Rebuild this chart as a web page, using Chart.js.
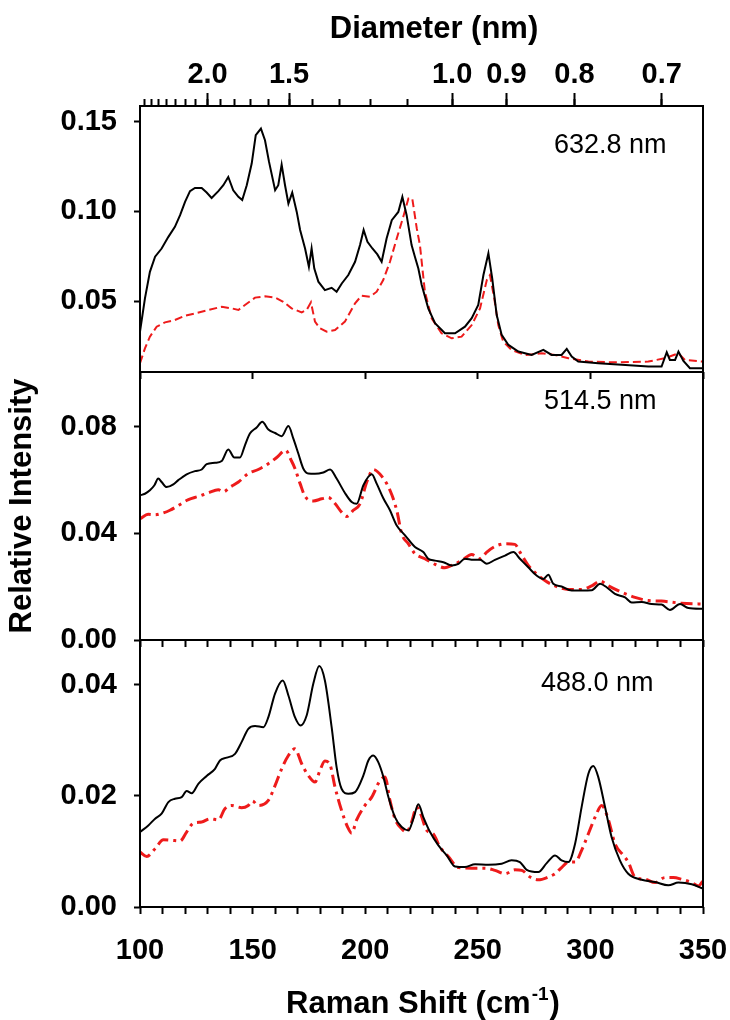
<!DOCTYPE html>
<html>
<head>
<meta charset="utf-8">
<script src="https://cdn.jsdelivr.net/npm/chart.js@4.4.0/dist/chart.umd.min.js"></script>
<style>
  html, body { margin: 0; padding: 0; background: #fff; }
  #wrap { position: relative; width: 730px; height: 1020px; }
  canvas { position: absolute; left: 0; }
</style>
</head>
<body>
<div id="wrap">
  <canvas id="c633" width="730" height="392" style="top:0px"></canvas>
  <canvas id="c514" width="730" height="310" style="top:350px"></canvas>
  <canvas id="c488" width="730" height="400" style="top:620px"></canvas>
</div>
<script>
// ---- data (Raman shift in cm-1, relative intensity) ----
const shift633Black = [100,102.2,104.4,106.7,109.6,112.6,115.5,117.8,120,122.2,124.4,127.4,129.6,131.8,134.8,137,139.2,141.4,143.7,145.4,147.4,149.6,151.4,153.7,155.5,157.3,160,161.4,162.9,164.4,165.9,167.6,169.6,171.1,173.3,175,176.2,177.4,179.2,182.1,185.1,187.3,189.6,192.5,195.5,197.7,199.3,201,203.2,205.4,207.3,209.5,211.8,214.7,216.5,218.4,220.6,222.1,223.6,225.1,228,231,235.4,239.9,244.3,247.3,250.2,252.5,254.7,256.4,258.4,260.6,263.6,268,273.9,279.1,282.8,287.2,289.5,291.7,294.6,303.5,313.9,325.7,331.6,333.9,335.3,337.6,339.1,341.3,344.2,350];
const int633Black = [.0329,.0515,.0663,.0747,.0793,.0858,.0914,.0979,.1053,.1113,.1131,.113,.1105,.1075,.1113,.1146,.1192,.1118,.1081,.1063,.1146,.1267,.1425,.1462,.1397,.1276,.1118,.1146,.1261,.1146,.1044,.1105,.0997,.0896,.0793,.0691,.0793,.0681,.0608,.0561,.0574,.0552,.0598,.0645,.0719,.0812,.0896,.083,.0793,.076,.0719,.0849,.0951,.0997,.1081,.0979,.0812,.0745,.0681,.0589,.0459,.0376,.032,.032,.0357,.0404,.0478,.0645,.0766,.0626,.0422,.0311,.0255,.0218,.0199,.0227,.0199,.0199,.0233,.019,.0162,.0153,.0144,.0134,.0134,.0214,.0171,.0171,.0218,.0166,.0125,.0125];
const shift633Red = [100,102.2,104.4,107.4,111.1,115.5,120,124.4,130.3,136.3,140.7,143.7,146.6,151.1,155.5,160,163.6,167.3,171.8,174,175.9,177.7,179.9,182.9,186.6,191,195.5,198.4,202.1,205.1,208,211,214,216.9,219.2,220.9,222.9,224.3,226.5,229.5,233.9,238.4,242.8,247.3,251,254,255.4,257.3,259.1,261.3,265,271,278.4,284.3,290.2,299.1,311,325.7,333.1,339.1,342,350];
const int633Red = [.0153,.0236,.0301,.0357,.0381,.0394,.0418,.0431,.045,.0468,.0459,.045,.0478,.0519,.0526,.0519,.0496,.0459,.0437,.045,.0493,.0385,.0348,.0329,.0338,.0385,.0487,.053,.0524,.0552,.0617,.0719,.0849,.097,.1072,.1072,.0905,.0812,.0552,.0404,.032,.0292,.0301,.0366,.0459,.0617,.0645,.0515,.0366,.0273,.0227,.0199,.0208,.0199,.0181,.0162,.0158,.0162,.0181,.0208,.0171,.0162];

const shift514Black = [100,102.2,104.4,106.4,108.1,109.6,111.8,114.8,117,120.7,124.4,127.4,129.6,133.3,136.3,139.2,141.9,144.4,146.6,148.8,151.8,154.3,157,160,162.9,165.9,168.1,170.3,172.5,174.7,177.7,181.4,184.4,187.3,191,194,196.2,199.2,202.9,205.1,208.1,211,214,217.7,222.1,225.8,228,231,234.7,238.4,241.4,244.3,248,251,254,257.6,262.1,265.8,268.7,272.4,276.1,279.1,281.3,283.5,287.2,291.7,296.1,300.6,304.3,307.2,310.9,315.4,318.3,322.8,327.2,331.6,335.3,339.8,343.5,350];
const int514Black = [.0543,.0549,.0562,.0581,.0606,.0593,.0574,.0584,.06,.0622,.0634,.064,.066,.0665,.0672,.0715,.0685,.0685,.0731,.0775,.0798,.0819,.079,.0777,.0765,.0803,.0756,.07,.0644,.0625,.0624,.0629,.064,.0606,.0552,.0518,.0511,.0581,.0622,.0587,.0531,.0487,.043,.0393,.0349,.033,.0305,.0298,.0292,.028,.0286,.0305,.0301,.0301,.0286,.0301,.0317,.033,.0305,.0273,.0242,.0229,.0245,.0211,.0201,.0186,.0186,.0187,.0211,.0198,.0173,.016,.0141,.0143,.0135,.0133,.0113,.0135,.012,.0117];
const shift514Red = [100,103.7,106.7,109.6,113.3,117,121.5,125.9,130.3,134.8,137,140,143.7,148.1,152.5,157,160.7,164.7,167.1,168.8,171.1,173.3,177,180.7,183.6,186.6,189.5,191.8,194.7,197.7,200.7,203.6,207.3,211,214,216.2,219.2,222.1,226.5,231,235.4,238.4,242.8,247.3,251,254,257.6,262.1,266.5,268.7,272.4,276.1,279.8,284.3,290.2,296.1,300.6,304.3,308,313.9,319.8,325.7,331.6,340.5,350];
const int514Red = [.0455,.0472,.047,.0475,.0487,.0505,.0527,.0539,.0552,.0564,.0556,.0574,.0593,.0625,.064,.0662,.0685,.0712,.0675,.0644,.0587,.0539,.0522,.053,.0535,.0512,.048,.0464,.0487,.0511,.0593,.064,.0615,.0562,.0487,.0399,.0361,.0324,.0305,.0284,.0271,.028,.0298,.0321,.0305,.033,.0351,.0361,.0359,.033,.028,.0248,.0223,.0203,.019,.019,.0203,.0221,.0203,.0179,.016,.0148,.0146,.0138,.0135];

const shift488Black = [100,103.7,106.7,109.6,112.6,115.5,118.5,120.7,123,125.9,129.6,133.3,135.5,138.5,142.2,145.1,148.1,151.1,154.8,157,160,163.4,165.9,168.8,171.3,174,177,179.6,182.1,185.1,187.3,189.5,192.5,195.5,199.2,201.4,203.6,205.8,208.1,210.3,213.2,216.2,219.2,221.4,223.6,225.8,228.8,232.5,236.2,239.9,244.3,248.8,254.7,260.6,265,268.7,271.7,276.9,280.6,284.3,287.2,290.2,293.2,296.1,299.1,301.3,303.5,306.5,309.4,313.1,316.8,322.8,328.7,334.6,339.1,345,350];
const int488Black = [.0135,.0147,.0159,.0168,.0189,.0195,.0198,.0209,.0205,.0222,.0236,.0249,.0264,.0269,.0276,.0297,.0321,.0326,.0324,.0342,.0385,.0408,.0381,.0342,.0327,.0345,.0403,.0434,.0408,.0324,.0252,.0213,.0204,.0207,.0237,.0264,.0273,.0261,.0234,.0198,.0162,.0144,.0138,.0159,.0185,.0162,.0135,.0111,.0093,.0073,.0072,.0077,.0076,.0078,.0084,.0081,.0067,.0063,.0079,.0093,.0084,.0081,.0114,.018,.024,.0254,.0234,.018,.0126,.0084,.006,.0049,.0045,.0039,.0044,.0041,.0033];
const shift488Red = [100,103,106.7,110.4,114.1,117.8,120.7,123.7,127.4,131.1,134.8,137.7,140.7,145.1,148.1,149.9,152.5,157,160,162.9,165.9,168.8,171.8,174.7,177.7,179.9,182.1,184.4,186.6,189.5,192.2,194,196.2,199.9,202.9,206.6,208.8,211,213.2,216.2,218.4,220.6,222.9,224.8,227.3,230.2,233.2,236.9,241.4,247.3,253.2,257.6,262.1,266.5,269.5,273.2,276.9,281.3,284.3,287.2,290.2,293.2,296.1,299.1,302.1,305,308,310.9,314.6,316.8,319.8,324.2,328.7,333.1,336.8,340.5,345,348,350];
const int488Red = [.0099,.0091,.0105,.0121,.012,.0119,.0135,.0151,.0153,.0159,.0157,.0177,.0183,.0179,.0183,.0191,.0183,.0192,.0219,.0249,.0273,.0285,.0258,.0237,.0225,.0246,.0263,.0256,.0216,.0174,.0144,.0133,.0157,.0183,.0198,.0228,.0234,.0192,.0159,.0141,.0135,.0153,.018,.0166,.0138,.0132,.0108,.0091,.0071,.007,.007,.0066,.006,.0067,.0066,.0054,.0049,.0054,.006,.0071,.0081,.0081,.0102,.0132,.0162,.0183,.0157,.0114,.0093,.0081,.0054,.005,.0044,.0053,.0053,.005,.0044,.0038,.0047];

// tick values
const shiftTicksMajor = [100, 150, 200, 250, 300, 350];
const diamMajor = [2.0, 1.5, 1.0, 0.9, 0.8, 0.7];
const diamMinor = [2.7, 2.6, 2.5, 2.4, 2.3, 2.2, 2.1, 2.0, 1.9, 1.8, 1.7, 1.6, 1.5, 1.4, 1.3, 1.2, 1.1, 1.0, 0.9, 0.8, 0.7];
const yTicks633 = [0.05, 0.10, 0.15];
const yTicks514 = [0.00, 0.04, 0.08];
const yTicks488 = [0.00, 0.02, 0.04];

// diameter (nm) -> Raman shift (cm-1), fitted to the top axis
const shiftFromDiam = d => 217.2 / d + 21.4;

const FONT = "'Liberation Sans', Arial, sans-serif";
const RED = '#ee1b1b';
Chart.defaults.font.family = FONT;
Chart.defaults.color = '#000';

const pts = (xs, ys) => xs.map((x, i) => ({ x, y: ys[i] }));
const tickGrid = len => ({ display: true, drawOnChartArea: false, drawTicks: true, tickLength: len, tickColor: '#000', tickWidth: 2 });
const boldTicks = { size: 29, weight: 'bold' };

// fixed axis sizes so the three panels line up exactly
const fixHeight = h => s => { s.height = h; s.paddingLeft = 0; s.paddingRight = 0; };
const fixWidth = w => s => { s.width = w; s.paddingTop = 0; s.paddingBottom = 0; };

const framePlugin = {
  id: 'frame',
  afterDraw(chart) {
    const { ctx, chartArea: a } = chart;
    ctx.save();
    ctx.strokeStyle = '#000';
    ctx.lineWidth = 2;
    ctx.strokeRect(a.left, a.top, a.right - a.left, a.bottom - a.top);
    // free text items
    const items = chart.options.plugins.texts || [];
    items.forEach(t => {
      ctx.fillStyle = '#000';
      ctx.textBaseline = 'alphabetic';
      if (t.sup) {
        ctx.font = t.font;
        const w1 = ctx.measureText(t.text).width;
        ctx.font = t.supFont;
        const w2 = ctx.measureText(t.sup).width;
        ctx.font = t.font;
        const w3 = ctx.measureText(t.tail).width;
        let x = t.x - (w1 + w2 + w3) / 2;
        ctx.textAlign = 'left';
        ctx.fillText(t.text, x, t.y);
        ctx.font = t.supFont;
        ctx.fillText(t.sup, x + w1 + 1, t.y - t.raise);
        ctx.font = t.font;
        ctx.fillText(t.tail, x + w1 + w2 + 2, t.y);
      } else {
        ctx.font = t.font;
        ctx.textAlign = t.align || 'left';
        ctx.fillText(t.text, t.x, t.y);
      }
    });
    ctx.restore();
  }
};

function yScale(min, max, ticks, title) {
  return {
    type: 'linear', position: 'left', min, max,
    afterBuildTicks: s => { s.ticks = ticks.map(v => ({ value: v })); },
    afterFit: fixWidth(140),
    ticks: { font: boldTicks, padding: 17, callback: v => v.toFixed(2) },
    grid: tickGrid(6),
    border: { display: false },
    title: title ? { display: true, text: title, font: { size: 31, weight: 'bold' }, padding: { top: 4, bottom: 0 } } : { display: false }
  };
}

function xScale(step, labelled, height) {
  return {
    type: 'linear', position: 'bottom', min: 100, max: 350,
    afterBuildTicks: s => {
      const t = [];
      for (let v = 100; v <= 350; v += step) t.push({ value: v });
      s.ticks = t;
    },
    afterFit: fixHeight(height),
    ticks: {
      autoSkip: false, maxRotation: 0, font: boldTicks, padding: 20,
      callback: v => (labelled && shiftTicksMajor.includes(v)) ? String(v) : ''
    },
    grid: tickGrid(7),
    border: { display: false }
  };
}

function lineSet(xs, ys, color, width, dash, smooth) {
  return {
    data: pts(xs, ys), borderColor: color, borderWidth: width, borderDash: dash,
    pointRadius: 0, fill: false, tension: 0,
    cubicInterpolationMode: smooth ? 'monotone' : 'default'
  };
}

const common = {
  responsive: false, animation: false, parsing: false,
  plugins: { legend: { display: false }, tooltip: { enabled: false } }
};

// 632.8 nm panel with the diameter axis on top
new Chart(document.getElementById('c633'), {
  type: 'line',
  data: { datasets: [
    lineSet(shift633Black, int633Black, '#000', 2, [], false),
    lineSet(shift633Red, int633Red, RED, 2, [8, 4], false)
  ] },
  options: {
    ...common,
    layout: { padding: { left: 0, right: 27, top: 0, bottom: 0 } },
    plugins: { ...common.plugins, texts: [
      { text: 'Diameter (nm)', x: 434, y: 38, font: 'bold 31px ' + FONT, align: 'center' },
      { text: '632.8 nm', x: 554, y: 153, font: '27px ' + FONT }
    ] },
    scales: {
      x: xScale(50, false, 20),
      y: yScale(0.0104, 0.1588, yTicks633, null),
      dMinor: {
        type: 'linear', position: 'top', min: 100, max: 350, weight: 0,
        afterBuildTicks: s => { s.ticks = diamMinor.map(d => ({ value: shiftFromDiam(d) })); },
        afterFit: fixHeight(0),
        ticks: { autoSkip: false, maxRotation: 0, callback: () => '' },
        grid: tickGrid(7), border: { display: false }
      },
      dMajor: {
        type: 'linear', position: 'top', min: 100, max: 350, weight: 1,
        afterBuildTicks: s => { s.ticks = diamMajor.map(d => ({ value: shiftFromDiam(d) })); },
        afterFit: fixHeight(106),
        ticks: { autoSkip: false, maxRotation: 0, font: boldTicks, padding: 1,
                 callback: (v, i) => diamMajor[i].toFixed(1) },
        grid: tickGrid(13), border: { display: false }
      }
    }
  },
  plugins: [framePlugin]
});

// 514.5 nm panel
new Chart(document.getElementById('c514'), {
  type: 'line',
  data: { datasets: [
    lineSet(shift514Black, int514Black, '#000', 2, [], true),
    lineSet(shift514Red, int514Red, RED, 3, [12, 5, 3, 5], true)
  ] },
  options: {
    ...common,
    layout: { padding: { left: 0, right: 27, top: 22, bottom: 0 } },
    plugins: { ...common.plugins, texts: [
      { text: '514.5 nm', x: 544, y: 59, font: '27px ' + FONT }
    ] },
    scales: {
      x: xScale(10, false, 20),
      y: yScale(0, 0.1006, yTicks514, 'Relative Intensity')
    }
  },
  plugins: [framePlugin]
});

// 488.0 nm panel with the Raman shift axis
new Chart(document.getElementById('c488'), {
  type: 'line',
  data: { datasets: [
    lineSet(shift488Black, int488Black, '#000', 2, [], true),
    lineSet(shift488Red, int488Red, RED, 3, [12, 5, 3, 5], true)
  ] },
  options: {
    ...common,
    layout: { padding: { left: 0, right: 27, top: 20, bottom: 0 } },
    plugins: { ...common.plugins, texts: [
      { text: '488.0 nm', x: 541, y: 71, font: '27px ' + FONT },
      { text: 'Raman Shift (cm', sup: '-1', tail: ')', x: 422, y: 393, raise: 13,
        font: 'bold 31px ' + FONT, supFont: 'bold 19px ' + FONT }
    ] },
    scales: {
      x: xScale(10, true, 113),
      y: yScale(0, 0.0481, yTicks488, null)
    }
  },
  plugins: [framePlugin]
});
</script>
</body>
</html>
